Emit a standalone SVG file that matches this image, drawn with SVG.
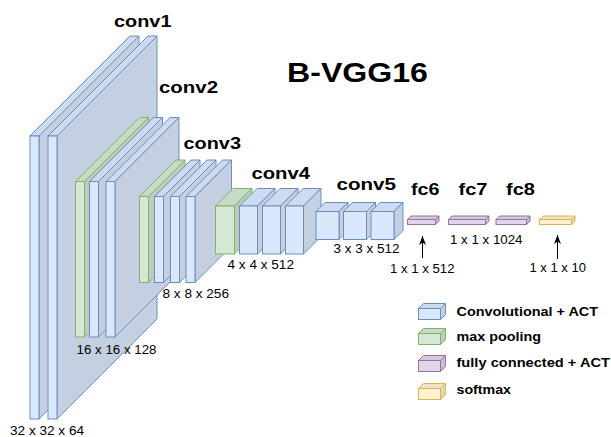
<svg xmlns="http://www.w3.org/2000/svg" width="611" height="437" viewBox="0 0 611 437">
<style>
.bf{fill:#dae8fc;stroke:#6c8ebf;stroke-width:1}
.bt{fill:#cddaf0;stroke:#6c8ebf;stroke-width:1}
.br{fill:#c4cfe2;stroke:#6c8ebf;stroke-width:1}
.gf{fill:#d5e8d4;stroke:#82b366;stroke-width:1}
.gt{fill:#c7dac6;stroke:#82b366;stroke-width:1}
.gr{fill:#bccdbb;stroke:#82b366;stroke-width:1}
.pf{fill:#e1d5e7;stroke:#9673a6;stroke-width:1}
.pt{fill:#d4c8da;stroke:#9673a6;stroke-width:1}
.pr{fill:#c9bdce;stroke:#9673a6;stroke-width:1}
.yf{fill:#fff2cc;stroke:#d6b656;stroke-width:1}
.yt{fill:#f0e3bf;stroke:#d6b656;stroke-width:1}
.yr{fill:#e4d7b4;stroke:#d6b656;stroke-width:1}
.h{font-family:"Liberation Sans",Arial,sans-serif;font-weight:bold;font-size:17px;fill:#000}
.t{font-family:"Liberation Sans",Arial,sans-serif;font-size:12px;fill:#000}
.l{font-family:"Liberation Sans",Arial,sans-serif;font-weight:bold;font-size:13px;fill:#000}
.ar{stroke:#000;stroke-width:1;fill:none}
</style>
<defs>
<marker id="arr" markerUnits="userSpaceOnUse" markerWidth="10" markerHeight="10" viewBox="0 0 10 10" refX="9" refY="5" orient="auto">
<path d="M0,1.5 L9,5 L0,8.5 L2.5,5 z" fill="#000"/>
</marker>
</defs>

<text id="title" class="h" x="287" y="82" style="font-size:28px" textLength="141" lengthAdjust="spacingAndGlyphs">B-VGG16</text>

<g id="conv1">
<polygon class="bt" points="30,136 130,36 139,36 39,136"/>
<polygon class="br" points="39,136 139,36 139,319 39,419"/>
<rect class="bf" x="30" y="136" width="9" height="283"/>
<polygon class="bt" points="48,136 148,36 157,36 57,136"/>
<polygon class="br" points="57,136 157,36 157,319 57,419"/>
<rect class="bf" x="48" y="136" width="9" height="283"/>
<text class="h" x="114" y="26.5" textLength="57.5" lengthAdjust="spacingAndGlyphs">conv1</text>
<text class="t" x="10" y="434.5" textLength="74" lengthAdjust="spacingAndGlyphs">32 x 32 x 64</text>
</g>

<g id="conv2">
<polygon class="gt" points="75.5,181.5 139.5,117.5 148.5,117.5 84.5,181.5"/>
<polygon class="gr" points="84.5,181.5 148.5,117.5 148.5,273 84.5,337"/>
<rect class="gf" x="75.5" y="181.5" width="9" height="155.5"/>
<polygon class="bt" points="89.5,181.5 153.5,117.5 162.5,117.5 98.5,181.5"/>
<polygon class="br" points="98.5,181.5 162.5,117.5 162.5,273 98.5,337"/>
<rect class="bf" x="89.5" y="181.5" width="9" height="155.5"/>
<polygon class="bt" points="106,181.5 170,117.5 179,117.5 115,181.5"/>
<polygon class="br" points="115,181.5 179,117.5 179,273 115,337"/>
<rect class="bf" x="106" y="181.5" width="9" height="155.5"/>
<text class="h" x="159" y="92.5" textLength="59" lengthAdjust="spacingAndGlyphs">conv2</text>
<text class="t" x="76.5" y="353.5" textLength="80" lengthAdjust="spacingAndGlyphs">16 x 16 x 128</text>
</g>

<g id="conv3">
<polygon class="gt" points="139.5,196.5 176,160 185,160 148.5,196.5"/>
<polygon class="gr" points="148.5,196.5 185,160 185,246 148.5,282.5"/>
<rect class="gf" x="139.5" y="196.5" width="9" height="86"/>
<polygon class="bt" points="154.5,196.5 191,160 200,160 163.5,196.5"/>
<polygon class="br" points="163.5,196.5 200,160 200,246 163.5,282.5"/>
<rect class="bf" x="154.5" y="196.5" width="9" height="86"/>
<polygon class="bt" points="170.5,196.5 207,160 216,160 179.5,196.5"/>
<polygon class="br" points="179.5,196.5 216,160 216,246 179.5,282.5"/>
<rect class="bf" x="170.5" y="196.5" width="9" height="86"/>
<polygon class="bt" points="186,196.5 222.5,160 231.5,160 195,196.5"/>
<polygon class="br" points="195,196.5 231.5,160 231.5,246 195,282.5"/>
<rect class="bf" x="186" y="196.5" width="9" height="86"/>
<text class="h" x="183.5" y="148.5" textLength="57.5" lengthAdjust="spacingAndGlyphs">conv3</text>
<text class="t" x="162.5" y="297.5" textLength="66.5" lengthAdjust="spacingAndGlyphs">8 x 8 x 256</text>
</g>

<g id="conv4">
<polygon class="gt" points="215.5,206 233,188.5 252,188.5 234.5,206"/>
<polygon class="gr" points="234.5,206 252,188.5 252,236.5 234.5,254"/>
<rect class="gf" x="215.5" y="206" width="19" height="48"/>
<polygon class="bt" points="239.5,206 257,188.5 275,188.5 257.5,206"/>
<polygon class="br" points="257.5,206 275,188.5 275,236.5 257.5,254"/>
<rect class="bf" x="239.5" y="206" width="18" height="48"/>
<polygon class="bt" points="262.5,206 280,188.5 298,188.5 280.5,206"/>
<polygon class="br" points="280.5,206 298,188.5 298,236.5 280.5,254"/>
<rect class="bf" x="262.5" y="206" width="18" height="48"/>
<polygon class="bt" points="285.5,206 303,188.5 321,188.5 303.5,206"/>
<polygon class="br" points="303.5,206 321,188.5 321,236.5 303.5,254"/>
<rect class="bf" x="285.5" y="206" width="18" height="48"/>
<text class="h" x="251.5" y="178.5" textLength="58.5" lengthAdjust="spacingAndGlyphs">conv4</text>
<text class="t" x="227.5" y="268.5" textLength="66.5" lengthAdjust="spacingAndGlyphs">4 x 4 x 512</text>
</g>

<g id="conv5">
<polygon class="bt" points="316,211.5 325,202.5 348,202.5 339,211.5"/>
<polygon class="br" points="339,211.5 348,202.5 348,230.5 339,239.5"/>
<rect class="bf" x="316" y="211.5" width="23" height="28"/>
<polygon class="bt" points="343.5,211.5 352.5,202.5 375.5,202.5 366.5,211.5"/>
<polygon class="br" points="366.5,211.5 375.5,202.5 375.5,230.5 366.5,239.5"/>
<rect class="bf" x="343.5" y="211.5" width="23" height="28"/>
<polygon class="bt" points="371,211.5 380,202.5 403,202.5 394,211.5"/>
<polygon class="br" points="394,211.5 403,202.5 403,230.5 394,239.5"/>
<rect class="bf" x="371" y="211.5" width="23" height="28"/>
<text class="h" x="336.5" y="190" textLength="59.5" lengthAdjust="spacingAndGlyphs">conv5</text>
<text class="t" x="333.5" y="252.5" textLength="66" lengthAdjust="spacingAndGlyphs">3 x 3 x 512</text>
</g>

<g id="fc6">
<polygon class="pt" points="407.5,219.5 411,216 439,216 435.5,219.5"/>
<polygon class="pr" points="435.5,219.5 439,216 439,221 435.5,224.5"/>
<rect class="pf" x="407.5" y="219.5" width="28" height="5"/>
<text class="h" x="411" y="194.5" textLength="28.5" lengthAdjust="spacingAndGlyphs">fc6</text>
<text class="t" x="390" y="273" textLength="64.5" lengthAdjust="spacingAndGlyphs">1 x 1 x 512</text>
</g>

<g id="fc7">
<polygon class="pt" points="448.5,219.5 452,216 489,216 485.5,219.5"/>
<polygon class="pr" points="485.5,219.5 489,216 489,221 485.5,224.5"/>
<rect class="pf" x="448.5" y="219.5" width="37" height="5"/>
<text class="h" x="458.5" y="194.5" textLength="29" lengthAdjust="spacingAndGlyphs">fc7</text>
<text class="t" x="450" y="244" textLength="72.5" lengthAdjust="spacingAndGlyphs">1 x 1 x 1024</text>
</g>

<g id="fc8">
<polygon class="pt" points="496,219.5 499.5,216 530,216 526.5,219.5"/>
<polygon class="pr" points="526.5,219.5 530,216 530,221 526.5,224.5"/>
<rect class="pf" x="496" y="219.5" width="30.5" height="5"/>
<text class="h" x="506" y="194.5" textLength="29" lengthAdjust="spacingAndGlyphs">fc8</text>
</g>

<g id="softmax">
<polygon class="yt" points="539.5,219.5 543,216 575,216 571.5,219.5"/>
<polygon class="yr" points="571.5,219.5 575,216 575,221 571.5,224.5"/>
<rect class="yf" x="539.5" y="219.5" width="32" height="5"/>
<text class="t" x="529.5" y="272" textLength="56.5" lengthAdjust="spacingAndGlyphs">1 x 1 x 10</text>
</g>

<g id="connectors">
<line class="ar" x1="422.5" y1="258" x2="422.5" y2="236" marker-end="url(#arr)"/>
<line class="ar" x1="557.5" y1="259" x2="557.5" y2="235" marker-end="url(#arr)"/>
</g>

<g id="legend">
<g id="legend-conv">
<polygon class="bt" points="418.5,308.5 423.5,303.5 445.5,303.5 440.5,308.5"/>
<polygon class="br" points="440.5,308.5 445.5,303.5 445.5,314.5 440.5,319.5"/>
<rect class="bf" x="418.5" y="308.5" width="22" height="11"/>
<text class="l" x="456.5" y="315.5" textLength="141.5" lengthAdjust="spacingAndGlyphs">Convolutional + ACT</text>
</g>
<g id="legend-pool">
<polygon class="gt" points="418.5,333.5 423.5,328.5 445.5,328.5 440.5,333.5"/>
<polygon class="gr" points="440.5,333.5 445.5,328.5 445.5,339.5 440.5,344.5"/>
<rect class="gf" x="418.5" y="333.5" width="22" height="11"/>
<text class="l" x="456.5" y="340.5" textLength="84.5" lengthAdjust="spacingAndGlyphs">max pooling</text>
</g>
<g id="legend-fc">
<polygon class="pt" points="418.5,360.5 423.5,355.5 445.5,355.5 440.5,360.5"/>
<polygon class="pr" points="440.5,360.5 445.5,355.5 445.5,366.5 440.5,371.5"/>
<rect class="pf" x="418.5" y="360.5" width="22" height="11"/>
<text class="l" x="456.5" y="367" textLength="153.5" lengthAdjust="spacingAndGlyphs">fully connected + ACT</text>
</g>
<g id="legend-softmax">
<polygon class="yt" points="418.5,388.5 423.5,383.5 445.5,383.5 440.5,388.5"/>
<polygon class="yr" points="440.5,388.5 445.5,383.5 445.5,394.5 440.5,399.5"/>
<rect class="yf" x="418.5" y="388.5" width="22" height="11"/>
<text class="l" x="456.5" y="393.5" textLength="54.5" lengthAdjust="spacingAndGlyphs">softmax</text>
</g>
</g>
</svg>
